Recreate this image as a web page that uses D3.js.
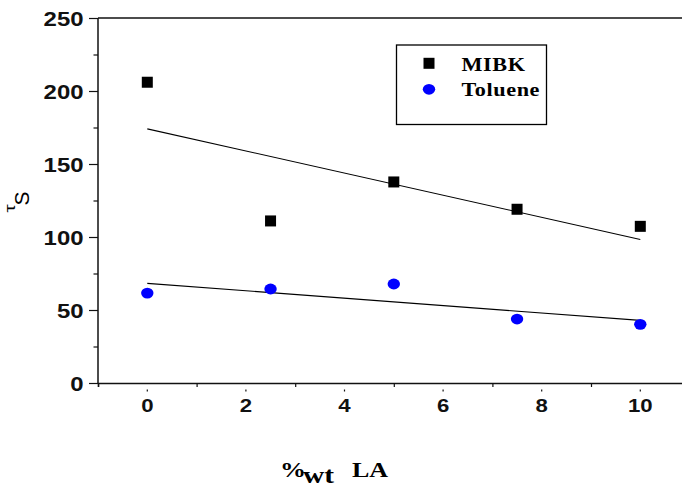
<!DOCTYPE html>
<html>
<head>
<meta charset="utf-8">
<script src="https://cdn.jsdelivr.net/npm/d3@7"></script>
<style>
    html, body { margin: 0; padding: 0; background: #fff; }
    svg { display: block; }
</style>
</head>
<body>
<div id="chart"></div>
<script>
'use strict';

// data
var loadings      = [0, 2.5, 5, 7.5, 10];          // %wt LA
var mibkValues    = [206, 111, 137.7, 119, 107.3];
var tolueneValues = [61.6, 64.4, 67.8, 43.8, 40.2];
var seriesNames   = ["MIBK", "Toluene"];
var xTickValues   = [0, 2, 4, 6, 8, 10];
var xMinorValues  = [-1, 1, 3, 5, 7, 9, 11];
var yTickValues   = [0, 50, 100, 150, 200, 250];
var yMinorValues  = [25, 75, 125, 175, 225];

var width  = 682,
    height = 492;

var sans  = "Liberation Sans, Arial, sans-serif",
    serif = "Liberation Serif, Times New Roman, serif";

var svg = d3.select("#chart").append("svg")
    .attr("width", width)
    .attr("height", height);

var x = d3.scaleLinear().domain([-1, 11]).range([98, 98 + 12 * 49.3]),
    y = d3.scaleLinear().domain([0, 250]).range([383, 18]);

// least squares fit through one series
function fit(xs, ys) {
    var mx = d3.mean(xs), my = d3.mean(ys),
        sxy = d3.sum(xs, function(v, i){ return (v - mx) * (ys[i] - my); }),
        sxx = d3.sum(xs, function(v){ return (v - mx) * (v - mx); }),
        b = sxy / sxx,
        a = my - b * mx;
    return function(v){ return a + b * v; };
}

// the source text is a bit wider than the fonts we have, so stretch it
function stretched(parent, px, py, sx, rot) {
    var t = "translate(" + px + "," + py + ")" + (rot ? " rotate(" + rot + ")" : "") + " scale(" + sx + ",1)";
    return parent.append("text").attr("transform", t);
}

var axisColor = "#111";

// frame: left axis, top border, bottom axis (right side runs off the page)
svg.append("line")
    .attr("x1", x(-1)).attr("x2", x(-1))
    .attr("y1", y(250)).attr("y2", y(0))
    .attr("stroke", axisColor).attr("stroke-width", 1.5);
svg.append("line")
    .attr("x1", x(-1)).attr("x2", x(11))
    .attr("y1", y(250)).attr("y2", y(250))
    .attr("stroke", axisColor).attr("stroke-width", 1.5);

var xAxis = svg.append("g")
    .attr("transform", "translate(0," + y(0) + ")")
    .call(d3.axisBottom(x).tickValues(xMinorValues).tickSize(4).tickFormat(""));
xAxis.select(".domain").attr("stroke", axisColor).attr("stroke-width", 1.5);
xAxis.selectAll(".tick line").attr("stroke", axisColor).attr("stroke-width", 1.2);

// the even ticks show only as small marks below the axis
svg.append("g").selectAll("line")
    .data(xTickValues)
    .enter().append("line")
        .attr("x1", function(d){ return x(d); })
        .attr("x2", function(d){ return x(d); })
        .attr("y1", y(0) + 6.5)
        .attr("y2", y(0) + 8.5)
        .attr("stroke", axisColor).attr("stroke-width", 1.2);

var xLabels = svg.append("g");
xTickValues.forEach(function(d){
    stretched(xLabels, x(d), 411.5, 1.2)
        .attr("text-anchor", "middle")
        .attr("font-family", sans)
        .attr("font-weight", "bold")
        .attr("font-size", 18.5)
        .attr("fill", "#111")
        .text(d);
});

var yAxis = svg.append("g")
    .attr("transform", "translate(" + x(-1) + ",0)")
    .call(d3.axisLeft(y).tickValues(yTickValues).tickSize(9).tickFormat(""));
yAxis.select(".domain").remove();
yAxis.selectAll(".tick line").attr("stroke", axisColor).attr("stroke-width", 1.2);

var yMinor = svg.append("g")
    .attr("transform", "translate(" + x(-1) + ",0)")
    .call(d3.axisLeft(y).tickValues(yMinorValues).tickSize(4.5).tickFormat(""));
yMinor.select(".domain").remove();
yMinor.selectAll(".tick line").attr("stroke", axisColor).attr("stroke-width", 1.2);

var yLabels = svg.append("g");
yTickValues.forEach(function(d){
    stretched(yLabels, 83.5, y(d) + 7.5, 1.14)
        .attr("text-anchor", "end")
        .attr("font-family", sans)
        .attr("font-weight", "bold")
        .attr("font-size", 21)
        .attr("fill", "#111")
        .text(d);
});

// fit lines
[mibkValues, tolueneValues].forEach(function(vals){
    var f = fit(loadings, vals);
    svg.append("line")
        .attr("x1", x(0)).attr("y1", y(f(0)))
        .attr("x2", x(10)).attr("y2", y(f(10)))
        .attr("stroke", "#000").attr("stroke-width", 1.1);
});

// MIBK squares
svg.append("g").selectAll("rect")
    .data(loadings)
    .enter().append("rect")
        .attr("x", function(d){ return x(d) - 5.5; })
        .attr("y", function(d, i){ return y(mibkValues[i]) - 5.5; })
        .attr("width", 11)
        .attr("height", 11)
        .attr("fill", "#000");

// Toluene dots
svg.append("g").selectAll("ellipse")
    .data(loadings)
    .enter().append("ellipse")
        .attr("cx", function(d){ return x(d); })
        .attr("cy", function(d, i){ return y(tolueneValues[i]); })
        .attr("rx", 6.2)
        .attr("ry", 5.4)
        .attr("fill", "#0000ff");

// legend
var legend = svg.append("g");
legend.append("rect")
    .attr("x", 396.5).attr("y", 45)
    .attr("width", 150).attr("height", 79.5)
    .attr("fill", "#fff").attr("stroke", "#000").attr("stroke-width", 1.3);
legend.append("rect")
    .attr("x", 423.5).attr("y", 57.8).attr("width", 11).attr("height", 11)
    .attr("fill", "#000");
legend.append("ellipse")
    .attr("cx", 429).attr("cy", 89.3).attr("rx", 6.2).attr("ry", 5.4)
    .attr("fill", "#0000ff");
seriesNames.forEach(function(name, i){
    stretched(legend, 461.5, 70.5 + i * 25.5, 1.17)
        .attr("font-family", serif)
        .attr("font-weight", "bold")
        .attr("font-size", 19)
        .attr("letter-spacing", 0.5)
        .attr("fill", "#000")
        .text(name);
});

// y title: tau with a large, lowered S, turned upright
stretched(svg, 15, 212.5, 1.4, -90)
    .attr("font-family", sans)
    .attr("font-size", 15)
    .attr("fill", "#000")
    .text("τ");
stretched(svg, 28.5, 205.5, 1, -90)
    .attr("font-family", sans)
    .attr("font-size", 21)
    .attr("fill", "#000")
    .text("S");

// x title
stretched(svg, 280, 476.5, 1.3)
    .attr("font-family", serif).attr("font-weight", "bold")
    .attr("font-size", 20).attr("fill", "#000")
    .text("%");
stretched(svg, 303, 483, 1.28)
    .attr("font-family", serif).attr("font-weight", "bold")
    .attr("font-size", 23).attr("fill", "#000")
    .text("wt");
stretched(svg, 352, 476.7, 1.24)
    .attr("font-family", serif).attr("font-weight", "bold")
    .attr("font-size", 21).attr("fill", "#000")
    .text("LA");
</script>
</body>
</html>
